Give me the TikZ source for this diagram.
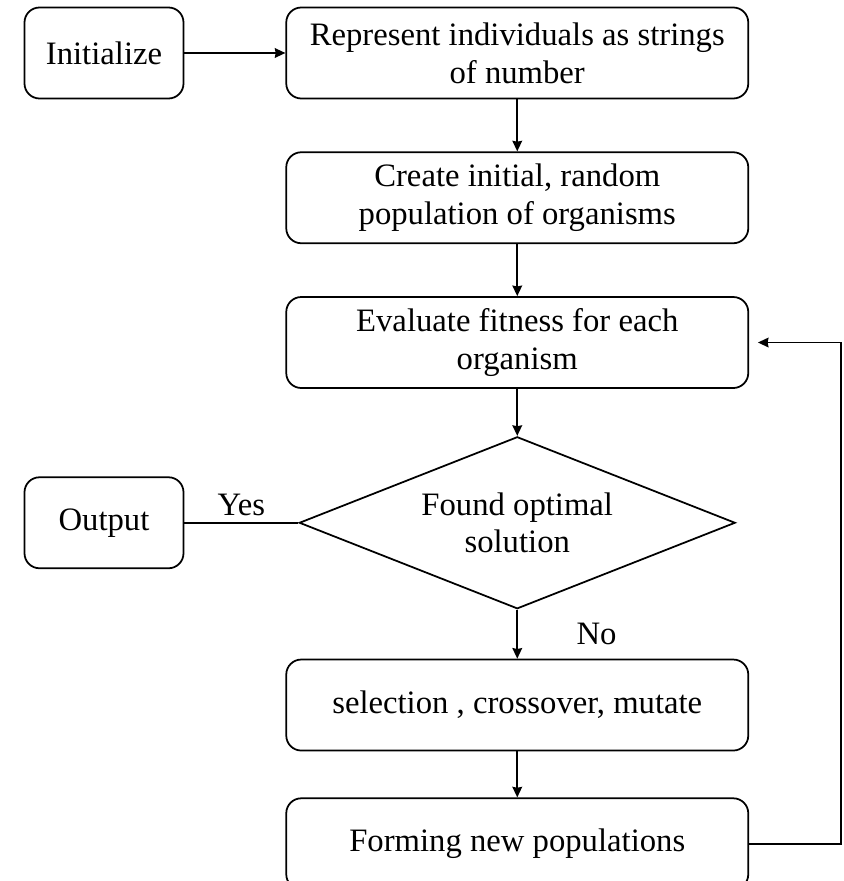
\documentclass[tikz,border=0pt]{standalone}
\usepackage{fontspec}
\setmainfont{Liberation Serif}
\usetikzlibrary{positioning,shapes.geometric,arrows.meta}

\begin{document}
\begin{tikzpicture}[
                ->,
                >={Stealth[length=6pt,width=5.5pt,inset=0.5pt]},
                line width=1pt,
                node distance=1cm,
                box/.style={rectangle, rounded corners=0.3cm, draw, minimum width=9.24cm, minimum height=1.82cm, align=center, font=\fontsize{18.6}{21.5}\selectfont},
                smallbox/.style={box, minimum width=3.18cm},
                decision/.style={diamond, draw, aspect=2.5, minimum width=8.72cm, minimum height=3.44cm, inner sep=0pt, align=center, font=\fontsize{18.6}{21.5}\selectfont}
                ]
            \useasboundingbox (0,0) rectangle (16.86,-17.62);
            % Nodes
            \node[smallbox] (init) at (2.08,-1.06) {Initialize};
            \node[box] (rep) [right=2.02cm of init] {Represent individuals as strings\\of number};
            \node[box] (create) [below=1.04cm of rep] {Create initial, random\\population of organisms};
            \node[box] (eval) [below=1.04cm of create] {Evaluate fitness for each\\organism};
            \node[decision] (found) [below=0.94cm of eval] {Found optimal\\solution};
            \node[smallbox] (out) [left=2.28cm of found] {Output};
            \node[box] (sel) [below=0.98cm of found] {selection , crossover, mutate};
            \node[box] (form) [below=0.92cm of sel] {Forming new populations};
            % Edges
            \path
            (init) edge (rep)
            (rep) edge (create)
            (create) edge (eval)
            (eval) edge (found)
            (found) edge node[right=1.05cm] {\fontsize{18.6}{21.5}\selectfont No} (sel)
            (sel) edge (form);
            \draw[-] (found.west) -- node[above] {\fontsize{18.6}{21.5}\selectfont Yes} (out.east);
            \draw[shorten >=5pt] (form.east) -- ++(1.84,0) |- (eval.east);

            \end{tikzpicture}
\end{document}
